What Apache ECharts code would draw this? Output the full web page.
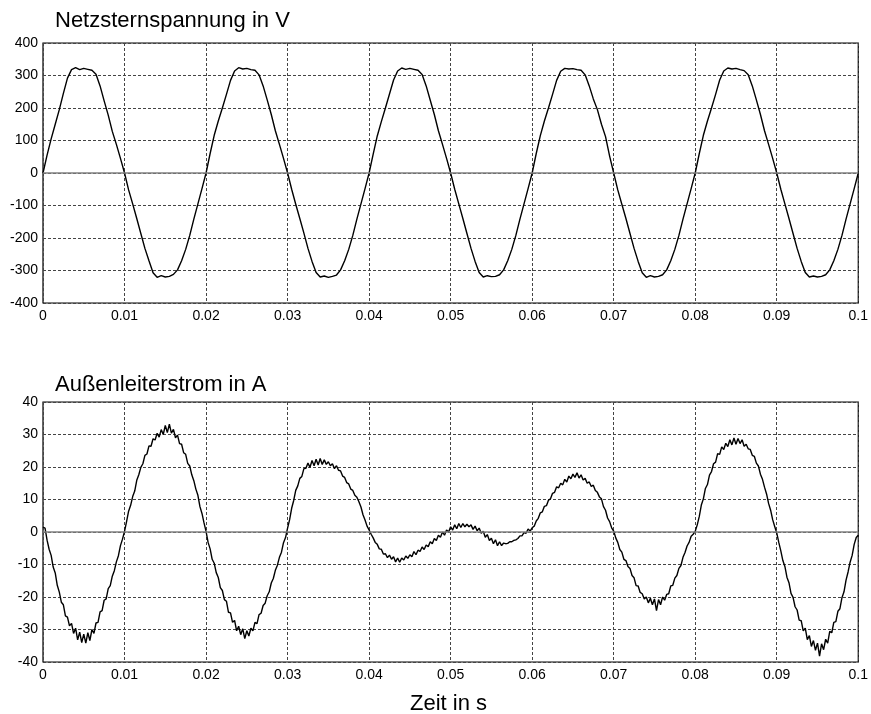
<!DOCTYPE html>
<html>
<head>
<meta charset="utf-8">
<script src="https://cdn.jsdelivr.net/npm/echarts@6/dist/echarts.min.js"></script>
<style>
html,body{margin:0;padding:0;background:#fff;}
#c{width:871px;height:714px;}
</style>
</head>
<body>
<div id="c"></div>
<script>
// Sampling step of the recorded waveforms (seconds)
const voltageStep = 0.0005;
const currentStep = 0.00025;

// Netzsternspannung in V, samples every 0.5 ms from 0 to 0.1 s
const voltage = [
  0, 55, 105, 150, 195, 245, 292, 318, 324, 318, 322, 319, 316, 304, 268, 222, 178, 128, 88, 45,
  0, -52, -95, -140, -186, -232, -270, -307, -321, -316, -320, -318, -312, -298, -270, -235, -192, -142, -95, -48,
  0, 60, 116, 160, 200, 242, 285, 314, 324, 320, 322, 318, 316, 302, 268, 225, 180, 130, 88, 45,
  0, -50, -96, -140, -185, -232, -272, -306, -320, -317, -321, -318, -314, -298, -270, -235, -192, -142, -95, -48,
  0, 58, 114, 158, 200, 243, 286, 314, 323, 319, 322, 319, 316, 303, 268, 224, 180, 130, 88, 45,
  0, -50, -95, -140, -186, -232, -272, -306, -320, -316, -319, -318, -313, -298, -270, -235, -192, -142, -95, -48,
  0, 60, 115, 160, 200, 242, 285, 313, 322, 320, 321, 318, 316, 302, 268, 228, 195, 150, 112, 52,
  0, -52, -96, -140, -186, -232, -272, -307, -321, -316, -320, -318, -313, -298, -270, -235, -192, -142, -95, -48,
  0, 60, 116, 160, 200, 242, 286, 314, 323, 320, 322, 318, 315, 302, 268, 225, 180, 130, 88, 45,
  0, -50, -95, -140, -186, -232, -272, -306, -320, -317, -320, -318, -313, -298, -270, -235, -192, -142, -95, -48,
  0
];

// Außenleiterstrom in A, samples every 0.25 ms from 0 to 0.1 s
const current = [
  1.5, 1.2, -2.5, -5.3, -7.2, -10.8, -12.6, -16.4, -18.5, -21.6, -22.4, -25.8, -26.2, -28.9, -28.1, -31.2, -29.6, -33.2, -30.8, -34.0,
  -31.4, -34.2, -31.0, -33.4, -30.0, -31.2, -28.0, -27.8, -24.6, -24.2, -21.0, -20.6, -17.4, -16.5, -13.6, -11.9, -9.2, -7.3, -4.2, -2.2,
  0.2, 3.2, 6.4, 8.2, 10.9, 12.6, 15.9, 17.6, 19.9, 21.0, 23.6, 24.0, 26.5, 26.4, 28.7, 28.3, 30.4, 29.2, 31.5, 30.0,
  32.8, 30.6, 33.2, 30.4, 31.6, 29.0, 29.8, 27.2, 27.0, 24.4, 23.9, 21.1, 20.3, 17.6, 15.8, 13.2, 11.3, 7.8, 5.7, 2.8,
  0.2, -3.2, -5.2, -8.4, -9.6, -12.5, -14.0, -17.1, -18.0, -20.8, -21.3, -24.7, -24.9, -27.8, -27.2, -30.4, -29.0, -31.6, -29.8, -32.8,
  -30.4, -32.0, -29.6, -30.4, -27.8, -28.2, -25.4, -25.0, -22.6, -21.9, -19.6, -18.4, -15.7, -14.3, -11.8, -10.2, -7.8, -6.2, -3.3, -1.7,
  1.2, 3.8, 7.3, 9.7, 12.8, 14.2, 16.5, 17.1, 19.5, 19.6, 21.2, 19.9, 22.0, 20.4, 22.4, 20.6, 22.6, 20.8, 22.2, 20.8,
  21.6, 20.4, 21.0, 19.5, 20.4, 19.0, 18.8, 17.2, 16.8, 15.2, 14.8, 13.2, 12.8, 11.3, 10.7, 9.3, 7.7, 5.3, 3.7, 1.8,
  0.6, -0.7, -1.8, -3.2, -3.8, -5.2, -5.3, -6.8, -6.7, -7.9, -7.1, -8.4, -7.6, -9.2, -8.0, -9.3, -8.0, -8.6, -7.4, -8.1,
  -7.0, -7.6, -6.0, -7.0, -5.6, -6.0, -4.6, -5.4, -4.0, -4.5, -3.0, -3.6, -2.0, -2.6, -1.0, -1.6, 0.0, -1.0, 0.6, 0.0,
  1.6, 0.6, 2.2, 1.0, 2.6, 1.4, 2.6, 1.6, 2.4, 1.6, 2.2, 0.8, 1.8, 0.4, 1.2, -0.4, 0.2, -1.6, -0.8, -2.6,
  -1.9, -3.6, -2.4, -4.2, -3.0, -4.2, -3.4, -3.6, -3.5, -3.0, -3.0, -2.6, -2.4, -2.0, -1.2, -1.2, -0.2, -0.4, 0.9, 0.3,
  1.3, 1.8, 3.4, 4.2, 5.9, 6.2, 7.9, 8.1, 9.8, 10.2, 11.9, 12.2, 13.9, 13.6, 15.0, 14.5, 16.2, 15.4, 17.2, 16.4,
  17.8, 16.8, 18.2, 16.6, 17.6, 16.0, 16.5, 15.0, 15.4, 14.0, 14.4, 12.8, 12.2, 10.8, 10.2, 7.8, 6.7, 4.3, 3.2, 1.3,
  0.3, -1.8, -3.2, -5.4, -6.2, -8.4, -8.8, -10.6, -11.2, -13.4, -14.1, -16.5, -16.6, -18.6, -19.0, -20.6, -20.0, -21.8, -20.4, -22.4,
  -20.6, -24.2, -20.8, -22.4, -20.0, -21.0, -19.2, -19.0, -16.6, -16.4, -14.2, -13.4, -11.2, -10.3, -7.8, -6.3, -4.3, -3.2, -1.3, -0.7,
  0.2, 2.2, 4.8, 8.3, 10.2, 13.4, 14.6, 17.5, 18.6, 21.0, 21.5, 24.1, 23.9, 26.2, 25.4, 27.3, 26.3, 28.4, 26.8, 28.9,
  27.0, 28.8, 27.2, 28.4, 26.4, 27.0, 25.6, 25.4, 23.6, 23.3, 21.2, 20.3, 17.8, 16.2, 13.8, 11.7, 8.8, 6.7, 3.8, 1.7,
  -0.3, -3.2, -5.8, -8.8, -10.6, -13.9, -15.6, -18.9, -20.1, -23.0, -24.0, -27.1, -27.3, -30.4, -29.6, -33.1, -31.9, -35.2, -33.4, -36.4,
  -34.2, -38.2, -34.4, -36.2, -33.0, -34.2, -30.6, -31.0, -27.8, -27.6, -24.4, -23.6, -20.2, -18.4, -14.8, -12.3, -9.3, -7.2, -3.8, -1.7,
  -1.0
];

// Tick labels
const xTickLabels = ['0', '0.01', '0.02', '0.03', '0.04', '0.05', '0.06', '0.07', '0.08', '0.09', '0.1'];
const voltageTicks = ['-400', '-300', '-200', '-100', '0', '100', '200', '300', '400'];
const currentTicks = ['-40', '-30', '-20', '-10', '0', '10', '20', '30', '40'];

// Titles
const titleTop = 'Netzsternspannung in V';
const titleBottom = 'Außenleiterstrom in A';
const xAxisTitle = 'Zeit in s';

const FONT = '"Liberation Sans", Arial, sans-serif';

const voltageData = voltage.map((v, i) => [i * voltageStep, v]);
const currentData = current.map((v, i) => [i * currentStep, v]);

function xAxisCfg(gridIndex) {
  return {
    type: 'value', gridIndex: gridIndex, min: 0, max: 0.1, interval: 0.01,
    axisLine: { show: false },
    axisTick: { show: false },
    axisLabel: {
      color: '#000', fontSize: 14, fontFamily: FONT, margin: 6,
      formatter: v => xTickLabels[Math.round(v / 0.01)]
    },
    splitLine: { show: true, lineStyle: { color: '#444', type: [3, 2], width: 1 } }
  };
}
function yAxisCfg(gridIndex, lim, step, labels) {
  return {
    type: 'value', gridIndex: gridIndex, min: -lim, max: lim, interval: step,
    axisLine: { show: false },
    axisTick: { show: false },
    axisLabel: {
      color: '#000', fontSize: 14, fontFamily: FONT, margin: 5,
      formatter: v => labels[Math.round((v + lim) / step)]
    },
    splitLine: { show: true, lineStyle: { color: '#444', type: [3, 2], width: 1 } }
  };
}
function zeroLine() {
  return {
    silent: true, symbol: 'none', label: { show: false },
    lineStyle: { color: '#808080', type: 'solid', width: 1.5 },
    data: [{ yAxis: 0 }], animation: false
  };
}

const chart = echarts.init(document.getElementById('c'), null, { renderer: 'canvas' });
chart.setOption({
  animation: false,
  backgroundColor: '#fff',
  title: [
    { text: titleTop, left: 55, top: 10, padding: 0,
      textStyle: { fontSize: 22, fontWeight: 'normal', color: '#000', fontFamily: FONT } },
    { text: titleBottom, left: 55, top: 374, padding: 0,
      textStyle: { fontSize: 22, fontWeight: 'normal', color: '#000', fontFamily: FONT } },
    { text: xAxisTitle, left: 410, top: 693, padding: 0,
      textStyle: { fontSize: 22, fontWeight: 'normal', color: '#000', fontFamily: FONT } }
  ],
  grid: [
    { left: 43, top: 43, width: 820, height: 260, show: true, borderColor: '#000', borderWidth: 1.2, backgroundColor: 'transparent' },
    { left: 43, top: 402, width: 820, height: 260, show: true, borderColor: '#000', borderWidth: 1.2, backgroundColor: 'transparent' }
  ],
  xAxis: [xAxisCfg(0), xAxisCfg(1)],
  yAxis: [yAxisCfg(0, 400, 100, voltageTicks), yAxisCfg(1, 40, 10, currentTicks)],
  series: [
    { type: 'line', xAxisIndex: 0, yAxisIndex: 0, data: voltageData, showSymbol: false, symbol: 'none',
      lineStyle: { color: '#000', width: 1.4 }, markLine: zeroLine(), z: 3 },
    { type: 'line', xAxisIndex: 1, yAxisIndex: 1, data: currentData, showSymbol: false, symbol: 'none',
      lineStyle: { color: '#000', width: 1.4 }, markLine: zeroLine(), z: 3 }
  ]
});
</script>
</body>
</html>
